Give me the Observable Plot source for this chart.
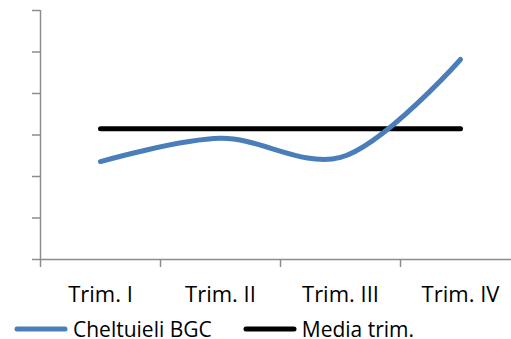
<!DOCTYPE html>
<html>
<head>
<meta charset="utf-8">
<script src="https://cdn.jsdelivr.net/npm/d3@7"></script>
<script src="https://cdn.jsdelivr.net/npm/@observablehq/plot@0.6"></script>
<style>
  body { margin: 0; background: #fff; font-family: "Open Sans", sans-serif; overflow: hidden; }
  #legend { display: flex; align-items: center; height: 29px; padding-top: 4px; font-size: 21px; color: #000; white-space: nowrap; }
  #legend .item { display: flex; align-items: center; }
  #legend svg { display: block; }
</style>
</head>
<body>
<div id="chart"></div>
<div id="legend"></div>
<script>
const categories = ["Trim. I", "Trim. II", "Trim. III", "Trim. IV"];
const cheltuieli = [2.36, 2.92, 2.46, 4.82];
const media = [3.15, 3.15, 3.15, 3.15];
const seriesNames = ["Cheltuieli BGC", "Media trim."];
const seriesColors = ["#4a7ebb", "#000000"];
const yTicks = [0, 1, 2, 3, 4, 5, 6];

const rowsA = categories.map((c, i) => ({x: i + 0.5, y: cheltuieli[i]}));
const rowsB = categories.map((c, i) => ({x: i + 0.5, y: media[i]}));

const plot = Plot.plot({
  width: 511,
  height: 310,
  marginLeft: 40,
  marginRight: -9,
  marginTop: 10,
  marginBottom: 51,
  style: {fontFamily: "Open Sans, sans-serif", fontSize: "22px", color: "#000", overflow: "visible"},
  x: {domain: [0, 4]},
  y: {domain: [0, 6]},
  marks: [
    Plot.ruleY([0], {stroke: "#8c8c8c", strokeWidth: 1.5}),
    Plot.ruleX([0], {y1: 0, y2: 6, stroke: "#8c8c8c", strokeWidth: 1.5}),
    Plot.axisY({ticks: yTicks, tickFormat: () => "", tickSize: 8, stroke: "#8c8c8c", strokeWidth: 1.5, label: null}),
    Plot.axisX({ticks: [0, 1, 2, 3, 4], tickFormat: () => "", tickSize: 8, stroke: "#8c8c8c", strokeWidth: 1.5, label: null}),
    Plot.axisX({ticks: categories.map((c, i) => i + 0.5), tickFormat: (d) => categories[Math.floor(d)], tickSize: 0, tickPadding: 27, fill: "#000", label: null}),
    Plot.line(rowsB, {x: "x", y: "y", stroke: seriesColors[1], strokeWidth: 5, strokeLinecap: "round"}),
    Plot.line(rowsA, {x: "x", y: "y", stroke: seriesColors[0], strokeWidth: 5, strokeLinecap: "round", curve: "catmull-rom"})
  ]
});
document.getElementById("chart").appendChild(plot);

const legend = document.getElementById("legend");
const offsets = [14, 31];
seriesNames.forEach((name, i) => {
  const item = document.createElement("div");
  item.className = "item";
  item.style.marginLeft = offsets[i] + "px";
  item.innerHTML = `<svg width="54" height="10"><line x1="3" y1="5" x2="51" y2="5" stroke="${seriesColors[i]}" stroke-width="5" stroke-linecap="round"/></svg><span style="margin-left:5px">${name}</span>`;
  legend.appendChild(item);
});
</script>
</body>
</html>
